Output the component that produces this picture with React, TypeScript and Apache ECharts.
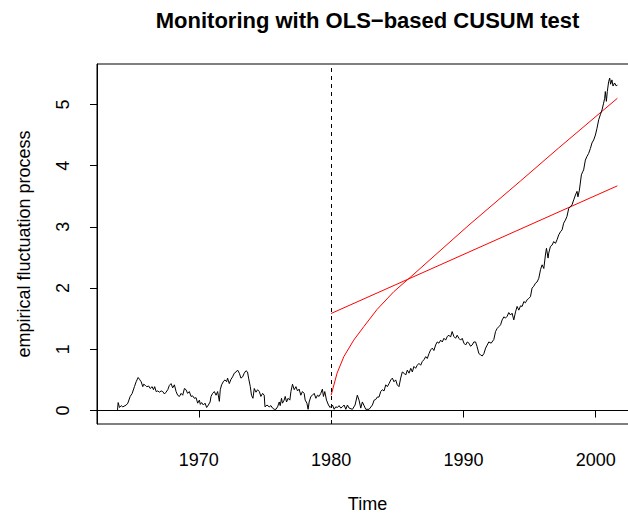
import React, { useEffect, useRef } from "react";
import * as echarts from "echarts";

// Empirical fluctuation process, history period (before monitoring starts)
const historyProcess: [number, number][] = [
  [1963.85, 0.01], [1963.9, 0.13], [1964.0, 0.05], [1964.13, 0.08], [1964.25, 0.06], [1964.51, 0.09], [1964.63, 0.12],
  [1964.81, 0.23], [1964.96, 0.28], [1965.13, 0.39], [1965.26, 0.47], [1965.41, 0.54], [1965.51, 0.51], [1965.64, 0.47],
  [1965.76, 0.39], [1965.83, 0.43], [1965.96, 0.41], [1966.06, 0.39], [1966.21, 0.4], [1966.32, 0.36], [1966.47, 0.39],
  [1966.57, 0.34], [1966.66, 0.39], [1966.77, 0.31], [1966.89, 0.32], [1967.02, 0.3], [1967.15, 0.32], [1967.27, 0.31],
  [1967.4, 0.27], [1967.52, 0.3], [1967.65, 0.34], [1967.77, 0.41], [1967.9, 0.44], [1968.02, 0.37], [1968.15, 0.42],
  [1968.28, 0.31], [1968.4, 0.25], [1968.53, 0.23], [1968.66, 0.28], [1968.78, 0.25], [1968.91, 0.36], [1969.03, 0.34],
  [1969.15, 0.28], [1969.28, 0.31], [1969.41, 0.23], [1969.53, 0.24], [1969.66, 0.2], [1969.79, 0.21], [1969.91, 0.12],
  [1970.04, 0.17], [1970.11, 0.1], [1970.21, 0.13], [1970.34, 0.09], [1970.47, 0.12], [1970.59, 0.05], [1970.72, 0.09],
  [1970.85, 0.14], [1970.92, 0.23], [1971.04, 0.28], [1971.17, 0.31], [1971.3, 0.25], [1971.42, 0.31], [1971.55, 0.15],
  [1971.62, 0.34], [1971.72, 0.42], [1971.87, 0.48], [1971.98, 0.5], [1972.1, 0.47], [1972.17, 0.53], [1972.3, 0.44],
  [1972.43, 0.51], [1972.55, 0.55], [1972.68, 0.61], [1972.81, 0.63], [1972.93, 0.66], [1973.06, 0.61], [1973.18, 0.53],
  [1973.31, 0.55], [1973.43, 0.61], [1973.56, 0.65], [1973.68, 0.63], [1973.76, 0.53], [1973.89, 0.39], [1973.98, 0.25],
  [1974.09, 0.2], [1974.19, 0.36], [1974.32, 0.3], [1974.44, 0.34], [1974.57, 0.31], [1974.69, 0.23], [1974.82, 0.28],
  [1974.94, 0.25], [1975.0, 0.06], [1975.15, 0.09], [1975.32, 0.06], [1975.45, 0.08], [1975.57, 0.04], [1975.7, 0.02],
  [1975.83, 0.02], [1975.95, 0.06], [1976.08, 0.14], [1976.15, 0.08], [1976.25, 0.2], [1976.32, 0.12], [1976.45, 0.17],
  [1976.53, 0.23], [1976.63, 0.14], [1976.75, 0.2], [1976.88, 0.17], [1976.96, 0.31], [1977.08, 0.43], [1977.21, 0.34],
  [1977.34, 0.39], [1977.46, 0.32], [1977.58, 0.35], [1977.71, 0.25], [1977.83, 0.31], [1977.96, 0.28], [1978.04, 0.17],
  [1978.17, 0.12], [1978.26, 0.02], [1978.34, 0.14], [1978.47, 0.23], [1978.59, 0.25], [1978.72, 0.28], [1978.85, 0.2],
  [1978.97, 0.25], [1979.09, 0.23], [1979.22, 0.28], [1979.34, 0.35], [1979.42, 0.23], [1979.52, 0.31], [1979.65, 0.17],
  [1979.8, 0.09], [1979.92, 0.05],
];

// Empirical fluctuation process, monitoring period
const monitoringProcess: [number, number][] = [
  [1980.1, 0.09], [1980.23, 0.02], [1980.35, 0.06], [1980.48, 0.05], [1980.6, 0.08], [1980.73, 0.04], [1980.85, 0.06],
  [1980.98, 0.09], [1981.11, 0.02], [1981.23, 0.09], [1981.36, 0.04], [1981.61, 0.02], [1981.81, 0.09], [1981.98, 0.25],
  [1982.11, 0.17], [1982.24, 0.04], [1982.36, 0.14], [1982.62, 0.02], [1982.87, 0.02], [1983.12, 0.09], [1983.25, 0.17],
  [1983.37, 0.18], [1983.49, 0.22], [1983.62, 0.22], [1983.75, 0.31], [1983.87, 0.34], [1984.0, 0.32], [1984.13, 0.42],
  [1984.25, 0.39], [1984.38, 0.44], [1984.51, 0.5], [1984.63, 0.53], [1984.75, 0.47], [1984.88, 0.5], [1985.0, 0.42],
  [1985.13, 0.39], [1985.26, 0.53], [1985.38, 0.63], [1985.51, 0.61], [1985.64, 0.58], [1985.76, 0.66], [1985.89, 0.61],
  [1986.02, 0.69], [1986.14, 0.63], [1986.26, 0.72], [1986.39, 0.69], [1986.51, 0.74], [1986.64, 0.77], [1986.77, 0.74],
  [1986.89, 0.8], [1987.02, 0.83], [1987.15, 0.88], [1987.27, 0.85], [1987.4, 0.93], [1987.52, 0.99], [1987.65, 1.02],
  [1987.77, 0.98], [1987.9, 1.07], [1988.02, 1.12], [1988.15, 1.1], [1988.28, 1.15], [1988.4, 1.12], [1988.53, 1.18],
  [1988.66, 1.15], [1988.78, 1.21], [1988.91, 1.23], [1989.03, 1.2], [1989.15, 1.29], [1989.28, 1.21], [1989.41, 1.18],
  [1989.53, 1.23], [1989.66, 1.18], [1989.79, 1.15], [1989.91, 1.18], [1990.04, 1.1], [1990.17, 1.07], [1990.29, 1.12],
  [1990.42, 1.1], [1990.54, 1.05], [1990.66, 1.07], [1990.79, 1.12], [1990.92, 1.12], [1991.04, 1.04], [1991.17, 0.93],
  [1991.3, 0.91], [1991.42, 0.89], [1991.55, 0.93], [1991.68, 1.02], [1991.8, 1.07], [1991.92, 1.12], [1992.1, 1.1],
  [1992.3, 1.16], [1992.43, 1.29], [1992.55, 1.34], [1992.68, 1.37], [1992.81, 1.4], [1992.93, 1.48], [1993.06, 1.53],
  [1993.18, 1.51], [1993.31, 1.54], [1993.43, 1.6], [1993.56, 1.56], [1993.68, 1.59], [1993.81, 1.48], [1993.94, 1.61],
  [1994.06, 1.7], [1994.19, 1.64], [1994.32, 1.71], [1994.44, 1.7], [1994.57, 1.78], [1994.69, 1.76], [1994.82, 1.81],
  [1994.94, 1.83], [1995.07, 1.86], [1995.19, 2.0], [1995.32, 2.03], [1995.45, 2.08], [1995.57, 2.1], [1995.7, 2.16],
  [1995.83, 2.3], [1995.95, 2.38], [1996.08, 2.32], [1996.2, 2.54], [1996.28, 2.65], [1996.4, 2.49], [1996.45, 2.57],
  [1996.58, 2.68], [1996.7, 2.7], [1996.83, 2.76], [1996.96, 2.73], [1997.08, 2.79], [1997.21, 2.87], [1997.34, 2.92],
  [1997.46, 2.95], [1997.58, 3.06], [1997.71, 3.11], [1997.83, 3.17], [1997.96, 3.3], [1998.09, 3.33], [1998.21, 3.36],
  [1998.34, 3.44], [1998.47, 3.52], [1998.59, 3.58], [1998.66, 3.49], [1998.77, 3.6], [1998.92, 3.85], [1999.02, 3.9],
  [1999.09, 3.93], [1999.22, 4.09], [1999.34, 4.15], [1999.47, 4.2], [1999.6, 4.28], [1999.72, 4.37], [1999.85, 4.42],
  [1999.98, 4.5], [2000.1, 4.61], [2000.23, 4.75], [2000.35, 4.83], [2000.48, 4.91], [2000.6, 5.02], [2000.68, 5.1],
  [2000.73, 5.21], [2000.81, 5.05], [2000.88, 5.21], [2000.98, 5.37], [2001.06, 5.43], [2001.13, 5.33], [2001.23, 5.4],
  [2001.31, 5.3], [2001.43, 5.35], [2001.56, 5.3], [2001.64, 5.32],
];

// Boundaries (red)
const linearBoundary: [number, number][] = [
  [1980.0, 1.585],
  [2001.64, 3.67],
];
const curvedBoundary: [number, number][] = [
  [1980.0, 0.25], [1980.45, 0.61], [1980.96, 0.88], [1981.71, 1.15], [1982.47, 1.37], [1983.47, 1.65],
  [1984.73, 1.94], [1986.11, 2.2], [1987.25, 2.42], [1990.42, 3.03], [1994.32, 3.75], [1997.21, 4.29],
  [2001.64, 5.1],
];

const monitoringStart = 1980;
const xTicks = [1970, 1980, 1990, 2000];
const yTicks = [0, 1, 2, 3, 4, 5];

const FONT = "'Liberation Sans', Arial, Helvetica, sans-serif";

export default function App() {
  const ref = useRef<HTMLDivElement>(null);
  useEffect(() => {
    if (!ref.current) return;
    const chart = echarts.init(ref.current, null, { renderer: "svg" });
    const process = [...historyProcess, ...monitoringProcess];
    chart.setOption({
      animation: false,
      backgroundColor: "#ffffff",
      textStyle: { fontFamily: FONT },
      graphic: [
        {
          type: "text",
          x: 367.5,
          y: 20,
          style: {
            text: "Monitoring with OLS\u2212based CUSUM test",
            font: `bold 22px ${FONT}`,
            fill: "#000",
            textAlign: "center",
            textVerticalAlign: "middle",
          },
        },
      ],
      grid: {
        left: 97,
        right: 0,
        top: 64,
        bottom: 89,
        show: true,
        borderColor: "#000",
        borderWidth: 1,
        backgroundColor: "transparent",
        containLabel: false,
        outerBoundsMode: "none",
      },
      xAxis: {
        type: "value",
        min: 1962.3,
        max: 2003.2,
        name: "Time",
        nameLocation: "middle",
        nameGap: 71,
        nameTextStyle: { color: "#000", fontSize: 18, lineHeight: 18, fontFamily: FONT, verticalAlign: "top" },
        axisLine: { show: true, lineStyle: { color: "#000", width: 1 } },
        axisTick: { show: true, length: 7, customValues: xTicks, lineStyle: { color: "#000" } },
        axisLabel: {
          customValues: xTicks,
          color: "#000",
          fontSize: 18,
          margin: 27,
          fontFamily: FONT,
          formatter: (v: number) => String(v),
        },
        splitLine: { show: false },
      },
      yAxis: {
        type: "value",
        min: -0.22,
        max: 5.66,
        name: "empirical fluctuation process",
        nameLocation: "middle",
        nameGap: 64,
        nameTextStyle: { color: "#000", fontSize: 18, fontFamily: FONT },
        axisLine: { show: true, lineStyle: { color: "#000", width: 1 } },
        axisTick: { show: true, length: 7, customValues: yTicks, lineStyle: { color: "#000" } },
        axisLabel: {
          customValues: yTicks,
          color: "#000",
          fontSize: 18,
          margin: 25,
          rotate: 90,
          fontFamily: FONT,
          formatter: (v: number) => String(v),
        },
        splitLine: { show: false },
      },
      series: [
        {
          type: "line",
          name: "process",
          data: process,
          showSymbol: false,
          lineStyle: { color: "#000", width: 1 },
          z: 3,
          markLine: {
            silent: true,
            symbol: "none",
            label: { show: false },
            data: [
              { yAxis: 0, lineStyle: { color: "#000", width: 1, type: "solid" } },
              { xAxis: monitoringStart, lineStyle: { color: "#000", width: 1, type: [4, 4] } },
            ],
          },
        },
        {
          type: "line",
          name: "linear boundary",
          data: linearBoundary,
          showSymbol: false,
          lineStyle: { color: "#ff0000", width: 1 },
          z: 2,
        },
        {
          type: "line",
          name: "curved boundary",
          data: curvedBoundary,
          showSymbol: false,
          smooth: false,
          lineStyle: { color: "#ff0000", width: 1 },
          z: 2,
        },
      ],
    });
    return () => chart.dispose();
  }, []);
  return <div ref={ref} style={{ position: "fixed", left: 0, top: 0, width: 638, height: 513 }} />;
}
